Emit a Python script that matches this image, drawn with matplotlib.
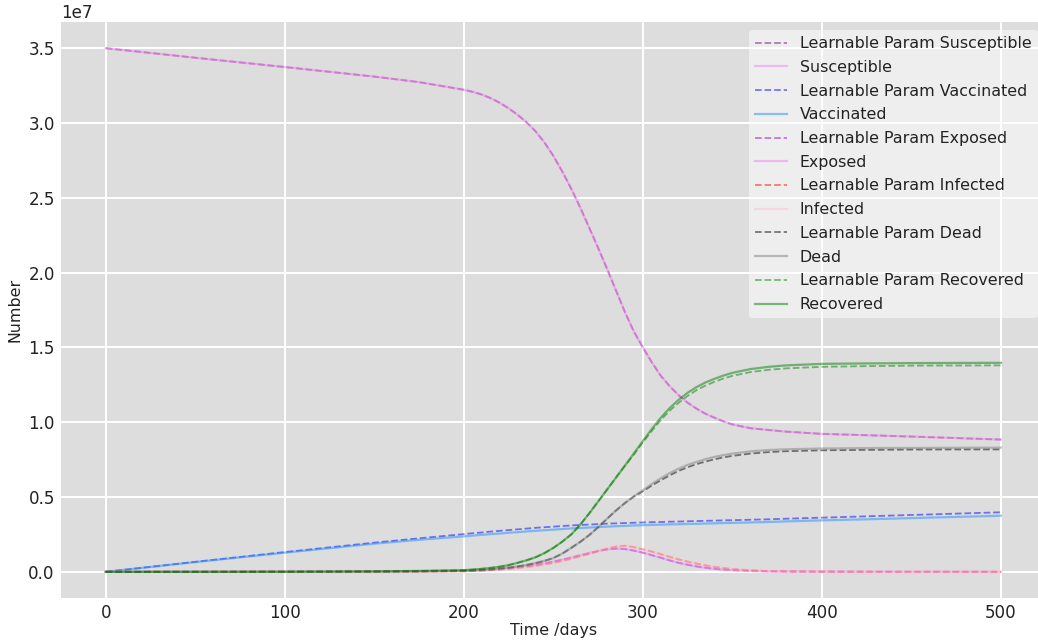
import matplotlib
matplotlib.use("Agg")
import matplotlib.pyplot as plt
import numpy as np

# Time grid (days) shared by every compartment; finer where the epidemic moves fast
t_days = [0, 50, 100, 150, 175,
          200, 205, 210, 215, 220, 225, 230, 235, 240, 245, 250, 255, 260, 265, 270,
          275, 280, 285, 290, 295, 300, 305, 310, 315, 320, 325, 330, 335, 340, 345, 350,
          360, 370, 380, 400, 425, 450, 475, 500]

# Compartment sizes in units of 1e7 people
susceptible = [3.500, 3.436, 3.374, 3.310, 3.273,
               3.222, 3.208, 3.190, 3.166, 3.135, 3.098, 3.055, 3.005, 2.945, 2.870, 2.780,
               2.675, 2.560, 2.435, 2.300, 2.165, 2.025, 1.880, 1.735, 1.605, 1.500, 1.400,
               1.310, 1.240, 1.180, 1.130, 1.090, 1.056, 1.030, 1.005, 0.985,
               0.960, 0.948, 0.937, 0.922, 0.913, 0.904, 0.894, 0.884]
susceptible_learn = [3.500, 3.436, 3.374, 3.310, 3.273,
                     3.222, 3.208, 3.190, 3.166, 3.135, 3.098, 3.055, 3.005, 2.945, 2.870, 2.780,
                     2.675, 2.560, 2.435, 2.300, 2.165, 2.025, 1.880, 1.735, 1.605, 1.500, 1.400,
                     1.310, 1.240, 1.180, 1.130, 1.090, 1.056, 1.030, 1.005, 0.985,
                     0.960, 0.948, 0.937, 0.922, 0.913, 0.904, 0.894, 0.884]

vaccinated = [0.0, 0.065, 0.128, 0.188, 0.214,
              0.237, 0.242, 0.247, 0.252, 0.256, 0.261, 0.265, 0.270, 0.274, 0.278, 0.282,
              0.286, 0.290, 0.293, 0.296, 0.299, 0.302, 0.305, 0.307, 0.310, 0.312, 0.314,
              0.315, 0.317, 0.318, 0.320, 0.321, 0.323, 0.324, 0.326, 0.327,
              0.330, 0.333, 0.337, 0.344, 0.351, 0.359, 0.367, 0.375]
vaccinated_learn = [0.0, 0.067, 0.132, 0.195, 0.224,
                    0.252, 0.258, 0.263, 0.269, 0.274, 0.279, 0.284, 0.289, 0.294, 0.298, 0.302,
                    0.306, 0.310, 0.313, 0.316, 0.319, 0.322, 0.324, 0.326, 0.328, 0.330, 0.332,
                    0.333, 0.335, 0.336, 0.338, 0.339, 0.341, 0.342, 0.344, 0.345,
                    0.348, 0.351, 0.355, 0.362, 0.371, 0.380, 0.389, 0.398]

exposed = [0.0, 0.0003, 0.0008, 0.002, 0.003,
           0.005, 0.007, 0.010, 0.013, 0.018, 0.023, 0.030, 0.038, 0.046, 0.056, 0.068,
           0.081, 0.095, 0.110, 0.125, 0.139, 0.150, 0.155, 0.152, 0.142, 0.128, 0.111,
           0.094, 0.076, 0.060, 0.047, 0.036, 0.027, 0.020, 0.015, 0.011,
           0.006, 0.003, 0.002, 0.001, 0.0005, 0.0002, 0.0001, 0.0]
exposed_learn = [0.0, 0.0003, 0.0008, 0.002, 0.003,
                 0.005, 0.007, 0.010, 0.013, 0.018, 0.023, 0.030, 0.038, 0.046, 0.056, 0.068,
                 0.081, 0.095, 0.110, 0.125, 0.139, 0.150, 0.155, 0.152, 0.142, 0.128, 0.111,
                 0.094, 0.076, 0.060, 0.047, 0.036, 0.027, 0.020, 0.015, 0.011,
                 0.006, 0.003, 0.002, 0.001, 0.0005, 0.0002, 0.0001, 0.0]

infected = [0.0, 0.0002, 0.0006, 0.0015, 0.0025,
            0.004, 0.006, 0.008, 0.011, 0.015, 0.020, 0.026, 0.033, 0.040, 0.050, 0.060,
            0.073, 0.088, 0.104, 0.120, 0.138, 0.155, 0.169, 0.174, 0.165, 0.150, 0.135,
            0.118, 0.100, 0.083, 0.068, 0.055, 0.043, 0.033, 0.025, 0.018,
            0.010, 0.005, 0.003, 0.001, 0.0005, 0.0002, 0.0001, 0.0]
infected_learn = [0.0, 0.0002, 0.0006, 0.0015, 0.0025,
                  0.004, 0.006, 0.008, 0.011, 0.015, 0.020, 0.026, 0.033, 0.040, 0.050, 0.060,
                  0.073, 0.088, 0.104, 0.120, 0.138, 0.155, 0.169, 0.174, 0.165, 0.150, 0.135,
                  0.118, 0.100, 0.083, 0.068, 0.055, 0.043, 0.033, 0.025, 0.018,
                  0.010, 0.005, 0.003, 0.001, 0.0005, 0.0002, 0.0001, 0.0]

dead = [0.0, 0.0001, 0.0005, 0.0015, 0.003,
        0.007, 0.009, 0.012, 0.016, 0.022, 0.028, 0.036, 0.046, 0.058, 0.073, 0.092,
        0.122, 0.160, 0.200, 0.245, 0.298, 0.355, 0.410, 0.460, 0.505, 0.545, 0.587,
        0.625, 0.660, 0.690, 0.715, 0.735, 0.753, 0.768, 0.780, 0.790,
        0.805, 0.814, 0.819, 0.824, 0.827, 0.828, 0.829, 0.830]
dead_learn = [0.0, 0.0001, 0.0005, 0.0015, 0.003,
              0.007, 0.009, 0.012, 0.016, 0.022, 0.028, 0.036, 0.046, 0.058, 0.073, 0.092,
              0.122, 0.160, 0.200, 0.245, 0.298, 0.355, 0.410, 0.460, 0.503, 0.538, 0.577,
              0.612, 0.645, 0.675, 0.699, 0.720, 0.737, 0.752, 0.765, 0.775,
              0.790, 0.800, 0.806, 0.812, 0.815, 0.817, 0.818, 0.818]

recovered = [0.0, 0.0002, 0.0008, 0.003, 0.006,
             0.011, 0.015, 0.020, 0.026, 0.034, 0.045, 0.060, 0.077, 0.097, 0.125, 0.160,
             0.202, 0.250, 0.315, 0.390, 0.470, 0.550, 0.630, 0.710, 0.792, 0.875, 0.955,
             1.030, 1.095, 1.150, 1.197, 1.235, 1.266, 1.290, 1.312, 1.330,
             1.355, 1.370, 1.380, 1.390, 1.393, 1.395, 1.396, 1.397]
recovered_learn = [0.0, 0.0002, 0.0008, 0.003, 0.006,
                   0.011, 0.015, 0.020, 0.026, 0.034, 0.045, 0.060, 0.077, 0.097, 0.125, 0.160,
                   0.202, 0.250, 0.315, 0.390, 0.470, 0.550, 0.630, 0.710, 0.785, 0.865, 0.942,
                   1.015, 1.077, 1.130, 1.176, 1.215, 1.245, 1.270, 1.292, 1.310,
                   1.335, 1.350, 1.360, 1.370, 1.375, 1.378, 1.379, 1.380]

SCALE = 1e7

series = [
    ("Learnable Param Susceptible", susceptible_learn, "purple", "--"),
    ("Susceptible", susceptible, "violet", "-"),
    ("Learnable Param Vaccinated", vaccinated_learn, "blue", "--"),
    ("Vaccinated", vaccinated, "dodgerblue", "-"),
    ("Learnable Param Exposed", exposed_learn, "darkviolet", "--"),
    ("Exposed", exposed, "violet", "-"),
    ("Learnable Param Infected", infected_learn, "red", "--"),
    ("Infected", infected, "pink", "-"),
    ("Learnable Param Dead", dead_learn, "black", "--"),
    ("Dead", dead, "gray", "-"),
    ("Learnable Param Recovered", recovered_learn, "green", "--"),
    ("Recovered", recovered, "green", "-"),
]

W, H = 1038, 642
fig = plt.figure(figsize=(W / 100, H / 100), dpi=100)
ax = fig.add_axes([61 / W, 44 / H, 984.75 / W, 576 / H])
ax.set_facecolor("#dddddd")

t = np.array(t_days)
for label, values, color, style in series:
    lw = 1.3 if style == "--" else 1.6
    ax.plot(t, np.array(values) * SCALE, color=color, linestyle=style,
            alpha=0.5, lw=lw, label=label)

ax.grid(True, color="white", linewidth=1.4)
ax.set_axisbelow(True)
for s in ax.spines.values():
    s.set_visible(False)
ax.tick_params(axis="both", length=0, labelsize=12.1, colors="#222222", pad=4.5)
ax.yaxis.get_offset_text().set_fontsize(12.1)
ax.yaxis.get_offset_text().set_color("#222222")

ax.set_xlabel("Time /days", fontsize=11.4, color="#222222", labelpad=0.5)
ax.set_ylabel("Number", fontsize=11.4, color="#222222", labelpad=4)

leg = ax.legend(loc="upper right", fontsize=11.4, facecolor="white",
                framealpha=0.5, edgecolor="none", fancybox=True, labelspacing=0.55)
for txt in leg.get_texts():
    txt.set_color("#222222")

fig.savefig("out.png", dpi=100)
